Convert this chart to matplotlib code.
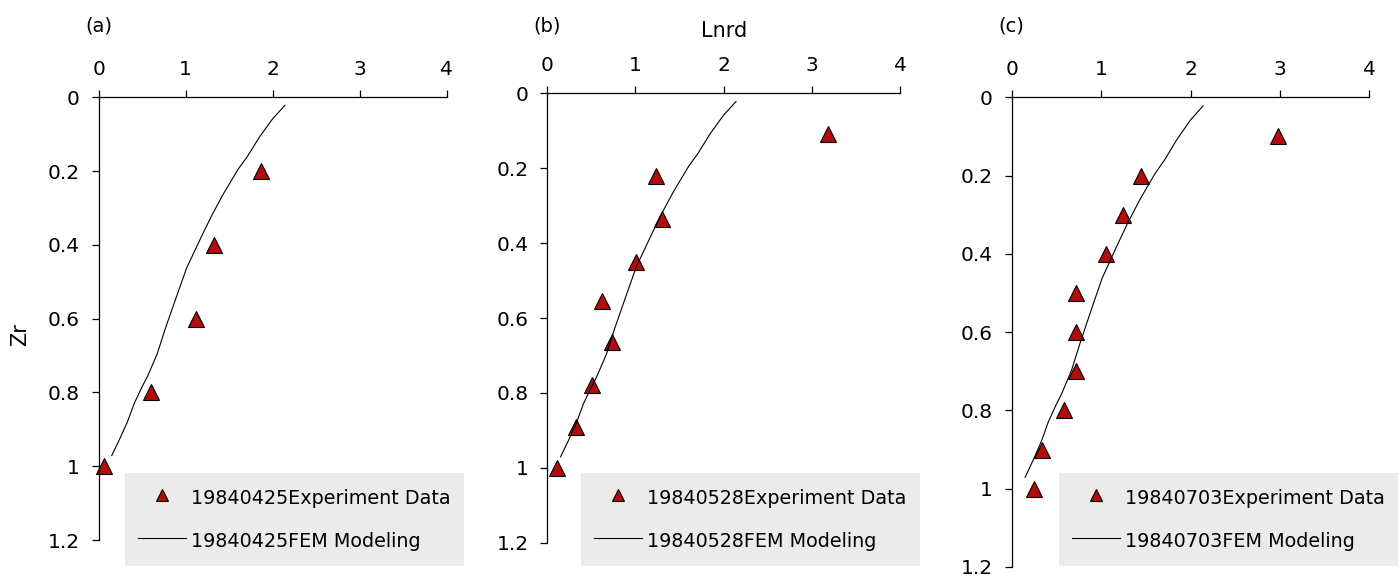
import matplotlib
matplotlib.use("Agg")
import matplotlib.pyplot as plt
from matplotlib import transforms
from matplotlib.ticker import FuncFormatter

# FEM modelling curve (same profile drawn in every panel)
fem_lnrd = [2.14, 2.00, 1.85, 1.71, 1.60, 1.43, 1.30, 1.17, 1.01, 0.89,
            0.77, 0.67, 0.56, 0.50, 0.41, 0.33, 0.24, 0.15]
fem_zr = [0.022, 0.058, 0.107, 0.160, 0.196, 0.263, 0.320, 0.383, 0.463, 0.543,
          0.624, 0.697, 0.757, 0.784, 0.829, 0.880, 0.927, 0.971]

# Experiment data for each date
dates = ["19840425", "19840528", "19840703"]
exp_lnrd_a = [1.86, 1.32, 1.12, 0.60, 0.06]
exp_zr_a = [0.2, 0.4, 0.6, 0.8, 1.0]
exp_lnrd_b = [3.18, 1.23, 1.30, 1.01, 0.62, 0.73, 0.51, 0.33, 0.11]
exp_zr_b = [0.11, 0.22, 0.335, 0.45, 0.555, 0.665, 0.78, 0.89, 1.0]
exp_lnrd_c = [2.98, 1.45, 1.25, 1.05, 0.72, 0.72, 0.72, 0.58, 0.34, 0.25]
exp_zr_c = [0.1, 0.2, 0.3, 0.4, 0.5, 0.6, 0.7, 0.8, 0.9, 1.0]

panel_tags = ["(a)", "(b)", "(c)"]
x_ticks = [0, 1, 2, 3, 4]
y_ticks = [0, 0.2, 0.4, 0.6, 0.8, 1.0, 1.2]

W, H = 1400, 577
fig = plt.figure(figsize=(W / 100, H / 100), dpi=100)

# axes boxes in pixels: left, right, top, bottom
boxes = [(98.7, 446.7, 97.3, 540.0),
         (547.3, 900.0, 93.3, 542.7),
         (1011.7, 1369.3, 97.3, 567.0)]
legend_left = [125, 581, 1059]

exp_data = [(exp_lnrd_a, exp_zr_a), (exp_lnrd_b, exp_zr_b), (exp_lnrd_c, exp_zr_c)]
red = "#b20c0c"

for i, (l, r, t, b) in enumerate(boxes):
    ax = fig.add_axes([l / W, 1 - b / H, (r - l) / W, (b - t) / H])
    ex, ey = exp_data[i]
    ax.plot(ex, ey, ls="none", marker="^", ms=11, mfc=red, mec="black",
            mew=0.8, clip_on=False, label=f"{dates[i]}Experiment Data")
    ax.plot(fem_lnrd, fem_zr, color="black", lw=0.8,
            label=f"{dates[i]}FEM Modeling")

    ax.set_xlim(0, 4)
    ax.set_ylim(1.2, 0)
    ax.set_xticks(x_ticks)
    ax.set_yticks(y_ticks)
    ax.yaxis.set_major_formatter(FuncFormatter(lambda v, p: f"{v:g}"))
    ax.xaxis.tick_top()
    for side in ["right", "bottom"]:
        ax.spines[side].set_visible(False)
    for side in ["left", "top"]:
        ax.spines[side].set_linewidth(0.9)
    ax.tick_params(direction="out", length=5, width=0.9, pad=8.5, labelsize=14.5)

    # panel tag
    trans = transforms.blended_transform_factory(ax.transAxes, fig.transFigure)
    ax.text(0, 1 - 25.5 / H, panel_tags[i], transform=trans, ha="center",
            va="center", fontsize=14)

    if i == 0:
        ax.set_ylabel("Zr", fontsize=15)
        ax.yaxis.set_label_coords(-0.197, 0.463)
    if i == 1:
        ax.set_xlabel("Lnrd", fontsize=15)
        ax.xaxis.set_label_position("top")
        ax.xaxis.set_label_coords(0.5, 1 + (93.3 - 37.3) / (b - t))
        ax.xaxis.label.set_va("baseline")

    ax.legend(loc="lower left", bbox_to_anchor=(legend_left[i] / W, 11 / H),
              bbox_transform=fig.transFigure, borderaxespad=0, fontsize=13.8,
              frameon=True, fancybox=False, facecolor="#ebebeb",
              edgecolor="none", framealpha=1, handlelength=2.5,
              handleheight=1.5, handletextpad=0.26, borderpad=0.69,
              labelspacing=1.04, markerscale=0.8)

fig.savefig("out.png", dpi=100)
